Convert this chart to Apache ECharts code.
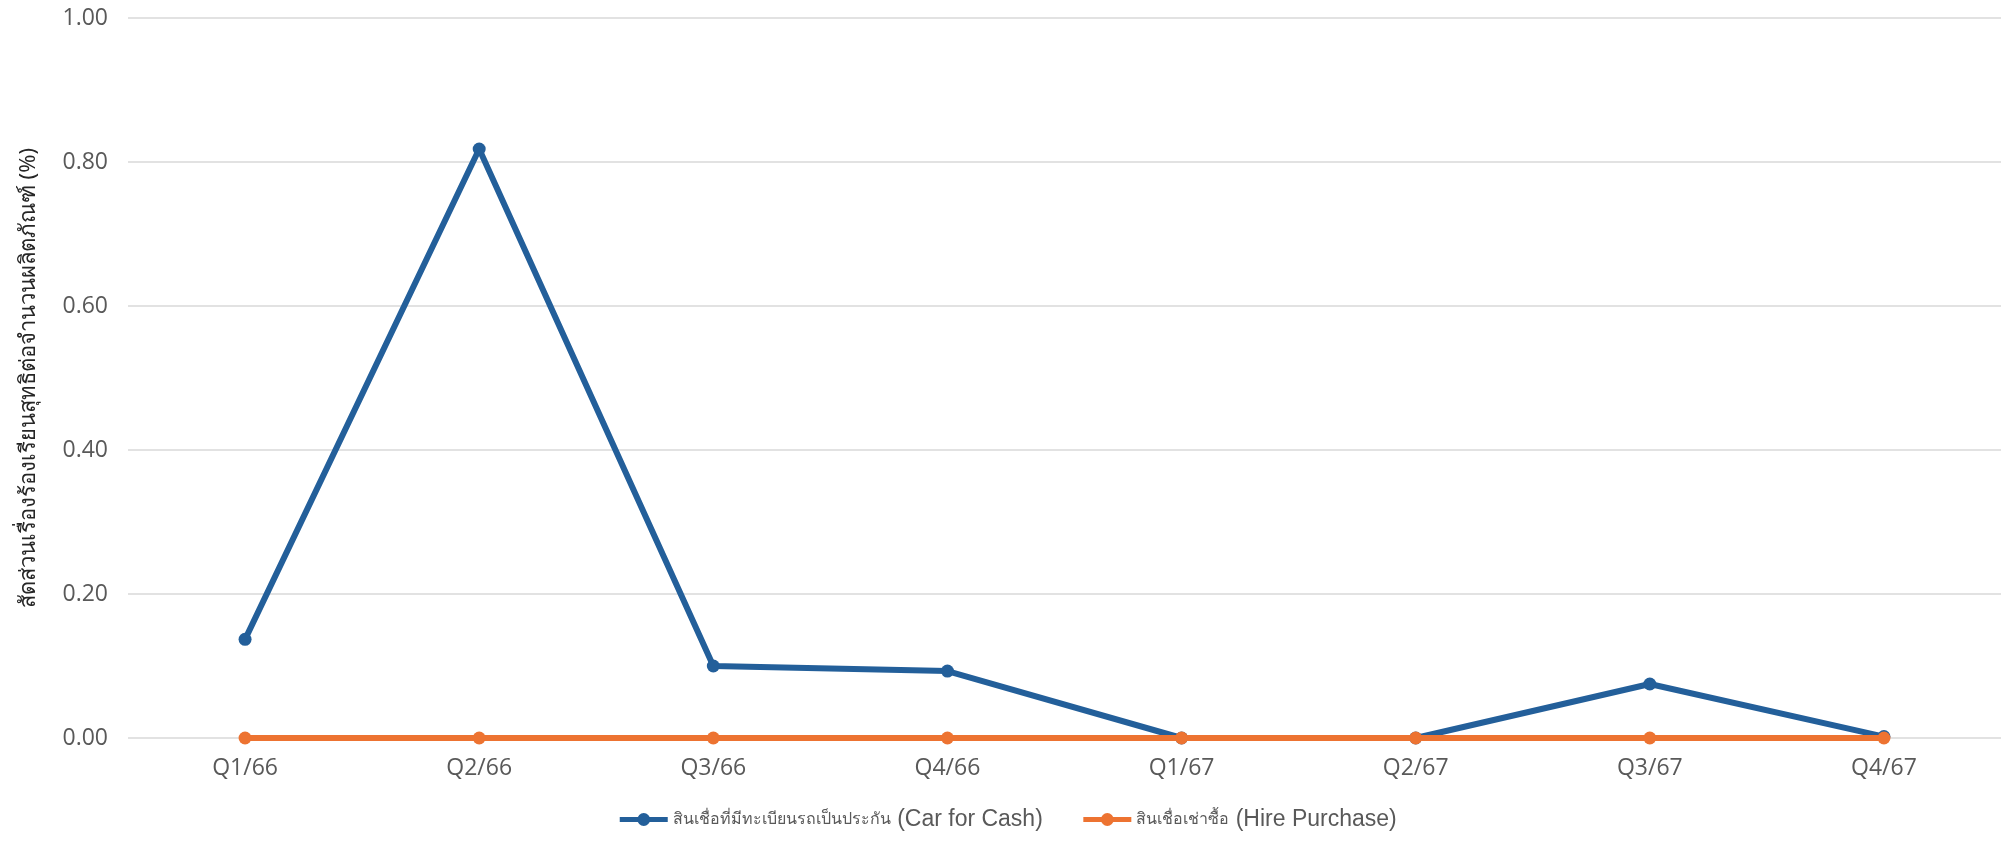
<!DOCTYPE html>
<html><head><meta charset="utf-8">
<script src="https://cdn.jsdelivr.net/npm/echarts@6/dist/echarts.min.js"></script>
<style>html,body{margin:0;padding:0;background:#fff}#c{width:2014px;height:842px}</style>
</head><body><div id="c"></div>
<script>
const categories = ['Q1/66','Q2/66','Q3/66','Q4/66','Q1/67','Q2/67','Q3/67','Q4/67'];
const carForCash = [0.137, 0.818, 0.100, 0.093, 0.000, 0.000, 0.075, 0.002];
const hirePurchase = [0, 0, 0, 0, 0, 0, 0, 0];
const seriesNames = ['สินเชื่อที่มีทะเบียนรถเป็นประกัน (Car for Cash)', 'สินเชื่อเช่าซื้อ (Hire Purchase)'];
const yTitle = 'สัดส่วนเรื่องร้องเรียนสุทธิต่อจำนวนผลิตภัณฑ์ (%)';

const chart = echarts.init(document.getElementById('c'), null, {renderer:'canvas'});
chart.setOption({
  animation:false,
  color:['#235f9a','#ed7331'],
  grid:{left:128, right:13, top:18, bottom:104},
  legend:{
    bottom:6, left:'center', itemWidth:48, itemHeight:16, itemGap:38,
    lineStyle:{width:5},
    formatter:function(name){
      const i = name.indexOf(' (');
      return '{th|' + name.slice(0,i) + '}{en|' + name.slice(i) + '}';
    },
    textStyle:{
      color:'#595959',
      rich:{
        th:{fontFamily:'"Noto Sans",sans-serif', fontSize:16, color:'#595959'},
        en:{fontFamily:'"Liberation Sans Narrow","Liberation Sans",sans-serif', fontSize:23, color:'#595959'}
      }
    },
    data:seriesNames
  },
  xAxis:{
    type:'category', data:categories, boundaryGap:true,
    axisLine:{show:false}, axisTick:{show:false},
    axisLabel:{fontFamily:'"Open Sans","Liberation Sans",sans-serif', fontSize:23, color:'#595959', margin:19}
  },
  yAxis:{
    type:'value', min:0, max:1, interval:0.2,
    name:yTitle, nameLocation:'middle', nameGap:88,
    nameTextStyle:{fontFamily:'"Noto Sans","Liberation Sans",sans-serif', fontSize:22, fontWeight:'normal', color:'#262626'},
    axisLabel:{formatter:v=>v.toFixed(2), fontFamily:'"Open Sans","Liberation Sans",sans-serif', fontSize:23, color:'#595959', margin:20},
    splitLine:{lineStyle:{color:'#d9d9d9', width:1.5}},
    axisLine:{show:false}, axisTick:{show:false}
  },
  series:[
    {name:seriesNames[0], type:'line', data:carForCash, symbol:'circle', symbolSize:13, lineStyle:{width:6}, z:2},
    {name:seriesNames[1], type:'line', data:hirePurchase, symbol:'circle', symbolSize:13, lineStyle:{width:6}, z:3}
  ]
});
</script></body></html>
